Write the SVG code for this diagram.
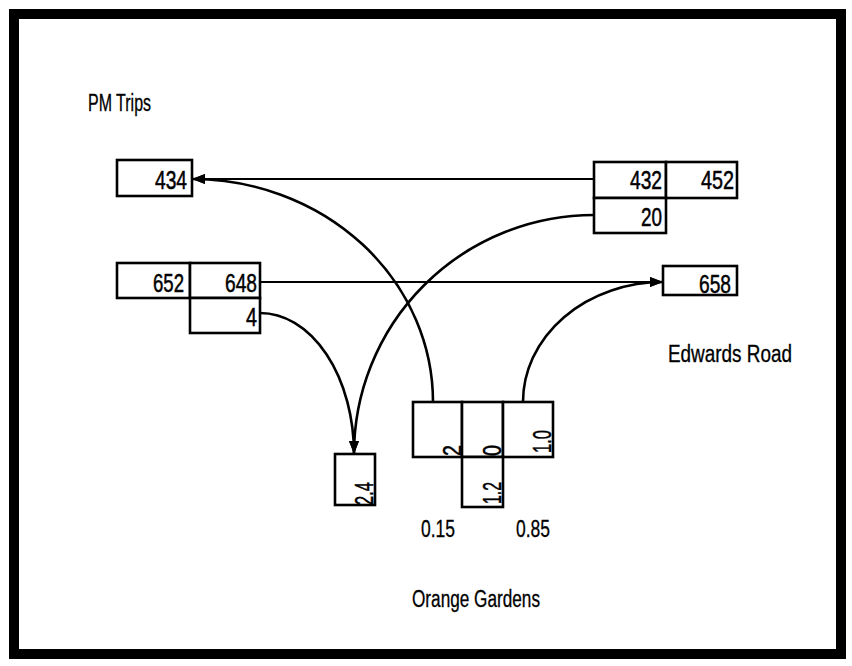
<svg xmlns="http://www.w3.org/2000/svg" width="852" height="666" viewBox="0 0 852 666">
  <style>
    .box { fill: #fff; stroke: #000; stroke-width: 2.6; }
    .num { font-family: "Liberation Sans", Arial, sans-serif; font-size: 26px; fill: #000; stroke: #000; stroke-width: 0.5; }
    .lbl { font-family: "Liberation Sans", Arial, sans-serif; font-size: 23px; fill: #000; stroke: #000; stroke-width: 0.3; }
    .line { fill: none; stroke: #000; stroke-width: 1.8; }
    .curve { fill: none; stroke: #000; stroke-width: 2.6; }
  </style>
  <defs>
    <marker id="arrow" markerUnits="userSpaceOnUse" markerWidth="14" markerHeight="10" refX="13" refY="5" orient="auto">
      <path d="M0,0 L13,5 L0,10 z" fill="#000"/>
    </marker>
  </defs>
  <rect x="0" y="0" width="852" height="666" fill="#fff"/>
  <rect x="14" y="14" width="827" height="640" fill="none" stroke="#000" stroke-width="10"/>

  <text class="lbl" x="88" y="111" font-size="21" textLength="63" lengthAdjust="spacingAndGlyphs">PM Trips</text>
  <text class="lbl" x="668" y="362" textLength="124" lengthAdjust="spacingAndGlyphs">Edwards Road</text>
  <text class="lbl" x="421" y="537" textLength="34" lengthAdjust="spacingAndGlyphs">0.15</text>
  <text class="lbl" x="516" y="537" textLength="34" lengthAdjust="spacingAndGlyphs">0.85</text>
  <text class="lbl" x="412" y="607" textLength="128" lengthAdjust="spacingAndGlyphs">Orange Gardens</text>

  <g id="connectors">
    <line class="line" x1="594" y1="179" x2="192" y2="179" marker-end="url(#arrow)"/>
    <line class="line" x1="260" y1="282" x2="663" y2="282" marker-end="url(#arrow)"/>
    <path class="curve" d="M433,402 A241,223 0 0 0 192,179" marker-end="url(#arrow)"/>
    <path class="curve" d="M594,215 A240,239 0 0 0 354,454" marker-end="url(#arrow)"/>
    <path class="curve" d="M260,313 A94,141 0 0 1 354,454" marker-end="url(#arrow)"/>
    <path class="curve" d="M523,402 A140,120 0 0 1 663,282" marker-end="url(#arrow)"/>
  </g>

  <g id="node-434">
    <rect class="box" x="117" y="160" width="75" height="36"/>
    <text class="num" x="187" y="189" text-anchor="end" textLength="32" lengthAdjust="spacingAndGlyphs">434</text>
  </g>

  <g id="node-432-452">
    <rect class="box" x="594" y="162" width="72" height="36"/>
    <rect class="box" x="666" y="162" width="71" height="36"/>
    <rect class="box" x="594" y="198" width="72" height="35"/>
    <text class="num" x="662" y="189" text-anchor="end" textLength="32" lengthAdjust="spacingAndGlyphs">432</text>
    <text class="num" x="734" y="189" text-anchor="end" textLength="33" lengthAdjust="spacingAndGlyphs">452</text>
    <text class="num" x="662" y="226" text-anchor="end" textLength="21" lengthAdjust="spacingAndGlyphs">20</text>
  </g>

  <g id="node-652-648">
    <rect class="box" x="117" y="263" width="73" height="35"/>
    <rect class="box" x="190" y="263" width="70" height="35"/>
    <rect class="box" x="190" y="298" width="70" height="35"/>
    <text class="num" x="184" y="292" text-anchor="end" textLength="31" lengthAdjust="spacingAndGlyphs">652</text>
    <text class="num" x="257" y="292" text-anchor="end" textLength="32" lengthAdjust="spacingAndGlyphs">648</text>
    <text class="num" x="257" y="326" text-anchor="end" textLength="11" lengthAdjust="spacingAndGlyphs">4</text>
  </g>

  <g id="node-658">
    <rect class="box" x="663" y="266" width="74" height="29"/>
    <text class="num" x="731" y="293" text-anchor="end" textLength="32" lengthAdjust="spacingAndGlyphs">658</text>
  </g>

  <g id="node-orange-gardens">
    <rect class="box" x="413" y="402" width="49" height="55"/>
    <rect class="box" x="462" y="402" width="41" height="55"/>
    <rect class="box" x="503" y="402" width="50" height="55"/>
    <rect class="box" x="462" y="457" width="41" height="50"/>
    <text class="num" transform="translate(461,456) rotate(-90)" textLength="11" lengthAdjust="spacingAndGlyphs">2</text>
    <text class="num" transform="translate(501,456) rotate(-90)" textLength="11" lengthAdjust="spacingAndGlyphs">0</text>
    <text class="num" transform="translate(551,453) rotate(-90)" textLength="23" lengthAdjust="spacingAndGlyphs">1.0</text>
    <text class="num" transform="translate(501,504) rotate(-90)" textLength="22" lengthAdjust="spacingAndGlyphs">1.2</text>
  </g>

  <g id="node-24">
    <rect class="box" x="335" y="454" width="40" height="51"/>
    <text class="num" transform="translate(373,505) rotate(-90)" textLength="23" lengthAdjust="spacingAndGlyphs">2.4</text>
  </g>
</svg>
